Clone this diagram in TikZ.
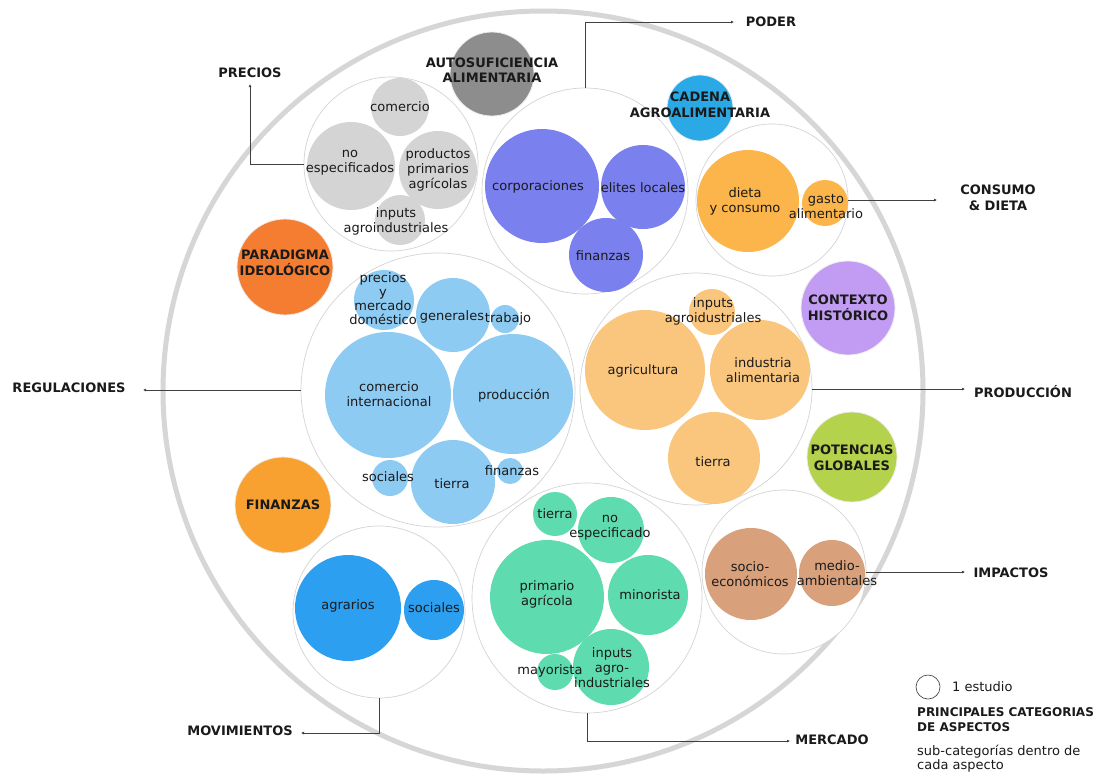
\documentclass[tikz,border=0pt]{standalone}
\usepackage{fontspec}
\setmainfont{DejaVu Sans}
\usetikzlibrary{arrows.meta}
\definecolor{cgray}{HTML}{D4D4D4}
\definecolor{cauto}{HTML}{8D8D8D}
\definecolor{cpod}{HTML}{7B80EF}
\definecolor{ccad}{HTML}{2AA9E6}
\definecolor{ccon}{HTML}{FBB54A}
\definecolor{cpar}{HTML}{F47D31}
\definecolor{creg}{HTML}{8ECBF3}
\definecolor{cfin}{HTML}{F8A131}
\definecolor{cpro}{HTML}{FAC67D}
\definecolor{cctx}{HTML}{C29CF3}
\definecolor{cpot}{HTML}{B4D24B}
\definecolor{cmov}{HTML}{2C9FF0}
\definecolor{cmer}{HTML}{5EDCB0}
\definecolor{cimp}{HTML}{D9A07C}
\definecolor{ctext}{HTML}{1A1A1A}
\begin{document}
\begin{tikzpicture}[x=1pt,y=-1pt,
  grp/.style={circle,draw=black!17,line width=0.7pt,fill=white,inner sep=0pt},
  bub/.style={circle,draw=none,inner sep=0pt},
  catc/.style={circle,draw=black!7,line width=0.8pt,inner sep=0pt},
  txt/.style={font=\fontsize{13}{15}\selectfont,align=center,text=ctext,inner sep=0pt},
  ctx/.style={font=\bfseries\fontsize{13}{15.5}\selectfont,align=center,text=ctext,inner sep=0pt},
  conn/.style={draw=black!75,line width=0.8pt,-{Latex[length=3pt,width=3pt]}},
]
\useasboundingbox[fill=white] (0,0) rectangle (1105,774);

% outer ring
\draw[black!16,line width=5pt] (543,391) circle[radius=380];

% group circles
\node[grp,minimum size=174pt] (gPre) at (391,164) {};
\node[grp,minimum size=206pt] (gPod) at (585,191) {};
\node[grp,minimum size=152pt] (gCon) at (772,200) {};
\node[grp,minimum size=274pt] (gReg) at (438,390) {};
\node[grp,minimum size=232pt] (gPro) at (696,389) {};
\node[grp,minimum size=172pt] (gMov) at (379,612) {};
\node[grp,minimum size=230pt] (gMer) at (587,598) {};
\node[grp,minimum size=164pt] (gImp) at (784,572) {};

% category circles
\node[catc,fill=cauto,minimum size=84pt] (auto) at (492,74) {};
\node[catc,fill=ccad,minimum size=66pt] (cad) at (700,108) {};
\node[catc,fill=cpar,minimum size=96pt] (par) at (285,267) {};
\node[catc,fill=cctx,minimum size=94pt] (ctxc) at (848,308) {};
\node[catc,fill=cfin,minimum size=96pt] (fin) at (283,505) {};
\node[catc,fill=cpot,minimum size=90pt] (pot) at (852,457) {};

% PRECIOS sub
\node[bub,fill=cgray,minimum size=58pt] (pc) at (400,107) {};
\node[bub,fill=cgray,minimum size=88pt] (pn) at (351,166) {};
\node[bub,fill=cgray,minimum size=78pt] (pp) at (438,170) {};
\node[bub,fill=cgray,minimum size=50pt] (pi) at (400,220) {};
% PODER sub
\node[bub,fill=cpod,minimum size=114pt] (oc) at (542,186) {};
\node[bub,fill=cpod,minimum size=84pt] (oe) at (643,187) {};
\node[bub,fill=cpod,minimum size=74pt] (of) at (606,255) {};
% CONSUMO sub
\node[bub,fill=ccon,minimum size=102pt] (cd) at (748,201) {};
\node[bub,fill=ccon,minimum size=46pt] (cg) at (825,203) {};
% REGULACIONES sub
\node[bub,fill=creg,minimum size=60pt] (rp) at (384,300) {};
\node[bub,fill=creg,minimum size=74pt] (rg) at (453,315) {};
\node[bub,fill=creg,minimum size=28pt] (rt) at (505,319) {};
\node[bub,fill=creg,minimum size=126pt] (rc) at (388,395) {};
\node[bub,fill=creg,minimum size=120pt] (rpr) at (513,394) {};
\node[bub,fill=creg,minimum size=36pt] (rs) at (390,478) {};
\node[bub,fill=creg,minimum size=84pt] (rti) at (453,482) {};
\node[bub,fill=creg,minimum size=26pt] (rf) at (510,471) {};
% PRODUCCION sub
\node[bub,fill=cpro,minimum size=46pt] (qi) at (712,312) {};
\node[bub,fill=cpro,minimum size=120pt] (qa) at (645,370) {};
\node[bub,fill=cpro,minimum size=100pt] (qn) at (760,370) {};
\node[bub,fill=cpro,minimum size=92pt] (qt) at (714,458) {};
% MOVIMIENTOS sub
\node[bub,fill=cmov,minimum size=106pt] (ma) at (348,608) {};
\node[bub,fill=cmov,minimum size=60pt] (ms) at (434,610) {};
% MERCADO sub
\node[bub,fill=cmer,minimum size=44pt] (et) at (555,514) {};
\node[bub,fill=cmer,minimum size=66pt] (en) at (611,530) {};
\node[bub,fill=cmer,minimum size=114pt] (ep) at (547,597) {};
\node[bub,fill=cmer,minimum size=80pt] (em) at (648,595) {};
\node[bub,fill=cmer,minimum size=76pt] (ei) at (611,667) {};
\node[bub,fill=cmer,minimum size=36pt] (ey) at (555,672) {};
% IMPACTOS sub
\node[bub,fill=cimp,minimum size=92pt] (is) at (751,574) {};
\node[bub,fill=cimp,minimum size=66pt] (im) at (832,573) {};

% sub texts
\node[txt] (pcT) at (400,107) {comercio};
\node[txt] (pnT) at (350,163) {no\\especificados};
\node[txt] (ppT) at (438,170) {productos\\primarios\\agrícolas};
\node[txt] (piT) at (396,221) {inputs\\agroindustriales};
\node[txt] (ocT) at (538,187) {corporaciones};
\node[txt] (oeT) at (643,188) {elites locales};
\node[txt] (ofT) at (603,256) {finanzas};
\node[txt] (cdT) at (745,201) {dieta\\y consumo};
\node[txt] (cgT) at (826,207) {gasto\\alimentario};
\node[txt,font=\fontsize{13}{14}\selectfont] (rpT) at (383,299) {precios\\y\\mercado\\doméstico};
\node[txt] (rgT) at (452,317) {generales};
\node[txt] (rtT) at (508,319) {trabajo};
\node[txt] (rcT) at (389,394) {comercio\\internacional};
\node[txt] (rprT) at (514,396) {producción};
\node[txt] (rsT) at (388,477) {sociales};
\node[txt] (rtiT) at (452,484) {tierra};
\node[txt] (rfT) at (512,471) {finanzas};
\node[txt] (qiT) at (713,311) {inputs\\agroidustriales};
\node[txt] (qaT) at (643,371) {agricultura};
\node[txt] (qnT) at (763,370) {industria\\alimentaria};
\node[txt] (qtT) at (713,462) {tierra};
\node[txt] (maT) at (348,606) {agrarios};
\node[txt] (msT) at (434,608) {sociales};
\node[txt] (etT) at (555,514) {tierra};
\node[txt] (enT) at (610,528) {no\\especificado};
\node[txt] (epT) at (547,594) {primario\\agrícola};
\node[txt] (emT) at (650,595) {minorista};
\node[txt] (eiT) at (612,668) {inputs\\agro-\\industriales};
\node[txt] (eyT) at (550,671) {mayorista};
\node[txt] (isT) at (750,574) {socio-\\económicos};
\node[txt] (imT) at (837,573) {medio-\\ambientales};

% category texts
\node[ctx] (autoT) at (492,70) {AUTOSUFICIENCIA\\ALIMENTARIA};
\node[ctx] (cadT) at (700,105) {CADENA\\AGROALIMENTARIA};
\node[ctx] (parT) at (285,263) {PARADIGMA\\IDEOLÓGICO};
\node[ctx] (ctxT) at (848,308) {CONTEXTO\\HISTÓRICO};
\node[ctx] (finT) at (283,505) {FINANZAS};
\node[ctx] (potT) at (852,458) {POTENCIAS\\GLOBALES};

% outer labels
\node[ctx] (preL) at (250,73) {PRECIOS};
\node[ctx] (podL) at (771,22) {PODER};
\node[ctx] (conL) at (998,198) {CONSUMO\\\& DIETA};
\node[ctx] (regL) at (69,388) {REGULACIONES};
\node[ctx] (proL) at (1023,392) {PRODUCCIÓN};
\node[ctx] (impL) at (1011,573) {IMPACTOS};
\node[ctx] (movL) at (240,731) {MOVIMIENTOS};
\node[ctx] (merL) at (832,740) {MERCADO};

% connector ends
\coordinate (preA) at (250,84);
\coordinate (podA) at (734,22);
\coordinate (conA) at (937,200);
\coordinate (regA) at (143,390);
\coordinate (proA) at (965,389);
\coordinate (impA) at (965,572);
\coordinate (movA) at (301,733);
\coordinate (merA) at (790,741);

\draw[conn] (gPre.west) -| (preA);
\draw[conn] (gPod.north) |- (podA);
\draw[conn] (gCon.east) -- (conA);
\draw[conn] (gReg.west) -- (regA);
\draw[conn] (gPro.east) -- (proA);
\draw[conn] (gImp.east) -- (impA);
\draw[conn] (gMov.south) |- (movA);
\draw[conn] (gMer.south) |- (merA);

% legend
\node[circle,draw=black!70,line width=0.7pt,minimum size=24pt,inner sep=0pt] (leg) at (928,687) {};
\node[txt,anchor=west] (legT) at (952,687) {1 estudio};
\node[ctx,anchor=west,align=left,font=\bfseries\fontsize{12}{15}\selectfont] (legC) at (917,720) {PRINCIPALES CATEGORIAS\\DE ASPECTOS};
\node[txt,anchor=west,align=left,font=\fontsize{13}{14}\selectfont] (legS) at (917,759) {sub-categorías dentro de\\cada aspecto};
\end{tikzpicture}
\end{document}
